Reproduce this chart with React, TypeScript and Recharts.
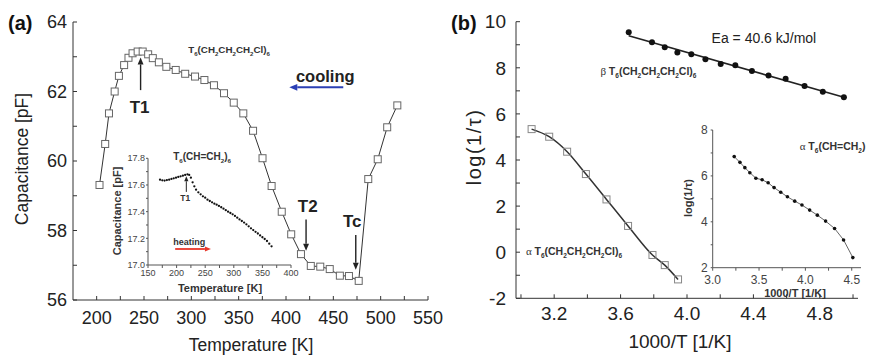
import React from 'react';
import { LineChart, Line, XAxis, YAxis, ReferenceLine, ReferenceDot } from 'recharts';

// ---------- Panel (a): main curve (cooling) ----------
const tempA = [203, 209, 213, 219, 223.5, 229, 233.6, 237.9, 243.3, 248.6, 254.4, 259.3, 265.7, 273.6, 283.5, 293.5, 303.9, 313.8, 323.9, 334.5, 344.8, 354.9, 365.2, 375.2, 384.8, 395.5, 405.5, 415.8, 426.2, 436.2, 446.2, 456.9, 466.5, 476.8, 486.9, 496.9, 506.9, 517.6];
const capA = [59.31, 60.49, 61.37, 62.0, 62.45, 62.76, 62.97, 63.1, 63.15, 63.15, 63.07, 62.96, 62.84, 62.71, 62.62, 62.51, 62.43, 62.33, 62.18, 61.95, 61.68, 61.37, 60.87, 60.08, 59.28, 58.54, 57.89, 57.32, 56.98, 56.96, 56.89, 56.7, 56.69, 56.55, 59.48, 60.05, 60.97, 61.6];

// ---------- Panel (a): inset (heating) ----------
const tempInsetA = [171, 175, 179, 183, 187, 191, 195, 199, 203, 207, 211, 215, 219, 222, 225, 228, 231, 234, 238, 242, 246, 250, 254, 258, 262, 266, 270, 274, 278, 282, 286, 290, 294, 298, 302, 306, 310, 314, 318, 322, 326, 330, 334, 338, 342, 346, 350, 354, 358, 362, 366];
const capInsetA = [17.64, 17.635, 17.633, 17.637, 17.64, 17.645, 17.65, 17.655, 17.66, 17.665, 17.67, 17.675, 17.68, 17.675, 17.655, 17.62, 17.59, 17.565, 17.545, 17.53, 17.515, 17.505, 17.49, 17.48, 17.47, 17.46, 17.452, 17.443, 17.433, 17.422, 17.411, 17.4, 17.39, 17.38, 17.368, 17.355, 17.342, 17.33, 17.318, 17.305, 17.29, 17.275, 17.262, 17.249, 17.236, 17.222, 17.208, 17.195, 17.18, 17.16, 17.14];

// ---------- Panel (b): beta relaxation ----------
const invTBeta = [3.649, 3.789, 3.866, 3.942, 4.026, 4.111, 4.203, 4.291, 4.391, 4.491, 4.594, 4.708, 4.818, 4.945];
const logBeta = [9.54, 9.11, 8.89, 8.66, 8.59, 8.37, 8.17, 8.11, 7.86, 7.67, 7.53, 7.21, 6.96, 6.72];
const invTBetaFit = [3.649, 4.945];
const logBetaFit = [9.39, 6.72];

// ---------- Panel (b): alpha relaxation ----------
const invTAlpha = [3.064, 3.17, 3.278, 3.391, 3.515, 3.645, 3.792, 3.866, 3.946];
const logAlpha = [5.34, 5.01, 4.36, 3.39, 2.29, 1.14, -0.12, -0.56, -1.18];

// ---------- Panel (b): inset ----------
const invTInsetB = [3.232, 3.294, 3.347, 3.401, 3.466, 3.533, 3.598, 3.662, 3.734, 3.806, 3.885, 3.963, 4.046, 4.129, 4.218, 4.315, 4.412, 4.512];
const logInsetB = [6.84, 6.59, 6.36, 6.14, 5.9, 5.83, 5.7, 5.49, 5.29, 5.09, 4.9, 4.73, 4.51, 4.29, 4.03, 3.71, 3.21, 2.44];

// ---------- Ticks ----------
const xTicksA = [200, 225, 250, 275, 300, 325, 350, 375, 400, 425, 450, 475, 500, 525, 550];
const yTicksA = [56, 57, 58, 59, 60, 61, 62, 63, 64];
const xTicksInsetA = [150, 175, 200, 225, 250, 275, 300, 325, 350, 375, 400];
const yTicksInsetA = [17.0, 17.1, 17.2, 17.3, 17.4, 17.5, 17.6, 17.7, 17.8];
const xTicksB = [3.0, 3.2, 3.4, 3.6, 3.8, 4.0, 4.2, 4.4, 4.6, 4.8, 5.0];
const yTicksB = [-2, -1, 0, 1, 2, 3, 4, 5, 6, 7, 8, 9, 10];
const xTicksInsetB = [3.0, 3.25, 3.5, 3.75, 4.0, 4.25, 4.5];
const yTicksInsetB = [2, 3, 4, 5, 6, 7, 8];

const zip = (xs: number[], ys: number[]) => xs.map((x, i) => ({ x, y: ys[i] }));

const FONT = '"Liberation Sans", Arial, Helvetica, sans-serif';
const AX = '#333';

const squareDot = (size: number, stroke: string, fill: string) => (p: any) => (
  <rect key={`sq-${p.index}`} x={p.cx - size / 2} y={p.cy - size / 2} width={size} height={size} stroke={stroke} strokeWidth={1} fill={fill} />
);
const circleDot = (r: number, fill: string) => (p: any) => (
  <circle key={`c-${p.index}`} cx={p.cx} cy={p.cy} r={r} fill={fill} stroke="none" />
);

const arrowShape = (color: string, w: number, head: number) => (p: any) => {
  const { x1, y1, x2, y2 } = p;
  const dx = x2 - x1, dy = y2 - y1;
  const L = Math.hypot(dx, dy) || 1;
  const ux = dx / L, uy = dy / L;
  const bx = x2 - ux * head, by = y2 - uy * head;
  const hw = head * 0.42;
  return (
    <g>
      <line x1={x1} y1={y1} x2={bx} y2={by} stroke={color} strokeWidth={w} />
      <polygon points={`${x2},${y2} ${bx - uy * hw},${by + ux * hw} ${bx + uy * hw},${by - ux * hw}`} fill={color} />
    </g>
  );
};

// text with "_x" subscripts
const chemTspans = (text: string, fs: number) => {
  const tokens = text.split(/(_\S)/).filter((t) => t.length > 0);
  let shift = 0;
  return tokens.map((t, i) => {
    if (t.startsWith('_')) {
      const dy = fs * 0.3 - shift;
      shift = fs * 0.3;
      return <tspan key={i} dy={dy} fontSize={fs * 0.62}>{t.slice(1)}</tspan>;
    }
    const dy = -shift;
    shift = 0;
    return <tspan key={i} dy={dy}>{t}</tspan>;
  });
};

const labelShape = (text: string, fs: number, opts: { bold?: boolean; anchor?: string; color?: string; greek?: string } = {}) => (p: any) => (
  <text x={p.cx} y={p.cy} fontSize={fs} fontWeight={opts.bold ? 'bold' : 'normal'} textAnchor={opts.anchor || 'start'} fill={opts.color || '#222'} fontFamily={FONT}>
    {opts.greek ? <tspan fontFamily='"Liberation Serif", serif' fontWeight="normal" fontSize={fs * 1.05}>{opts.greek + ' '}</tspan> : null}
    {chemTspans(text, fs)}
  </text>
);

const fmt = (major: (v: number) => boolean, digits: number) => (v: number) => (major(v) ? v.toFixed(digits) : '');

const seriesA = zip(tempA, capA);
const seriesInsetA = zip(tempInsetA, capInsetA);
const seriesBeta = zip(invTBeta, logBeta);
const seriesBetaFit = zip(invTBetaFit, logBetaFit);
const seriesAlpha = zip(invTAlpha, logAlpha);
const seriesInsetB = zip(invTInsetB, logInsetB);

export default function App() {
  const mainTick = (fs: number) => ({ fontSize: fs, fill: '#222', fontFamily: FONT });
  const insetTick = (fs: number) => ({ fontSize: fs, fill: '#444', fontFamily: FONT });
  return (
    <div style={{ position: 'absolute', left: 0, top: 0, width: 870, height: 356, background: '#fff', fontFamily: FONT, overflow: 'hidden' }}>
      {/* Panel (a) main */}
      <div style={{ position: 'absolute', left: 0, top: 0 }}>
        <LineChart width={462} height={356} margin={{ top: 22, right: 34, bottom: 26, left: 13 }}>
          <XAxis type="number" dataKey="x" domain={[175, 550]} allowDataOverflow ticks={xTicksA} interval={0}
            tickFormatter={fmt((v) => v % 50 === 0, 0)} tickSize={-4} tickMargin={15} height={30}
            axisLine={{ stroke: AX }} tickLine={{ stroke: AX }} tick={mainTick(18)} />
          <YAxis type="number" domain={[56, 64]} allowDataOverflow ticks={yTicksA} interval={0}
            tickFormatter={fmt((v) => v % 2 === 0, 0)} tickSize={-4} tickMargin={10} width={60}
            axisLine={{ stroke: AX }} tickLine={{ stroke: AX }} tick={mainTick(18)} />
          <Line data={seriesA} dataKey="y" type="linear" stroke="#333" strokeWidth={1} dot={squareDot(7, '#666', '#fff')} isAnimationActive={false} />
          <ReferenceLine segment={[{ x: 246.4, y: 62.04 }, { x: 246.4, y: 62.98 }]} shape={arrowShape('#222', 1.4, 7)} />
          <ReferenceLine segment={[{ x: 421.2, y: 58.32 }, { x: 421.2, y: 57.42 }]} shape={arrowShape('#222', 1.4, 7)} />
          <ReferenceLine segment={[{ x: 473.7, y: 57.87 }, { x: 473.7, y: 56.87 }]} shape={arrowShape('#222', 1.4, 7)} />
          <ReferenceLine segment={[{ x: 460.5, y: 62.12 }, { x: 403.5, y: 62.12 }]} shape={arrowShape('#2b3fb4', 2, 8)} />
          <ReferenceDot x={245.3} y={61.39} r={0} shape={labelShape('T1', 17, { bold: true, anchor: 'middle' })} />
          <ReferenceDot x={423} y={58.53} r={0} shape={labelShape('T2', 17, { bold: true, anchor: 'middle' })} />
          <ReferenceDot x={470} y={58.1} r={0} shape={labelShape('Tc', 17, { bold: true, anchor: 'middle' })} />
          <ReferenceDot x={410.5} y={62.28} r={0} shape={labelShape('cooling', 16.5, { bold: true })} />
          <ReferenceDot x={296.7} y={63.11} r={0} shape={labelShape('T_6(CH_2CH_2CH_2Cl)_6', 9.8, { bold: true, color: '#333' })} />
        </LineChart>
      </div>

      {/* Panel (a) inset */}
      <div style={{ position: 'absolute', left: 100, top: 140 }}>
        <LineChart width={200} height={160} margin={{ top: 18.3, right: 9, bottom: 15, left: 10 }}>
          <XAxis type="number" dataKey="x" domain={[150, 400]} allowDataOverflow ticks={xTicksInsetA} interval={0}
            tickFormatter={fmt((v) => v % 50 === 0, 0)} tickSize={3} tickMargin={2} height={20}
            axisLine={{ stroke: '#555' }} tickLine={{ stroke: '#555' }} tick={insetTick(9)} />
          <YAxis type="number" domain={[17.0, 17.8]} allowDataOverflow ticks={yTicksInsetA} interval={0}
            tickFormatter={fmt((v) => Math.round(v * 10) % 2 === 0, 1)} tickSize={2} tickMargin={1} width={38}
            axisLine={{ stroke: '#555' }} tickLine={{ stroke: '#555' }} tick={insetTick(9)} />
          <Line data={seriesInsetA} dataKey="y" type="linear" stroke="none" dot={circleDot(1.15, '#111')} isAnimationActive={false} />
          <ReferenceDot x={194} y={17.79} r={0} shape={labelShape('T_6(CH=CH_2)_6', 10, { bold: true, color: '#333' })} />
          <ReferenceLine segment={[{ x: 217, y: 17.548 }, { x: 217, y: 17.665 }]} shape={arrowShape('#222', 1, 5)} />
          <ReferenceDot x={215} y={17.48} r={0} shape={labelShape('T1', 8.5, { bold: true, anchor: 'middle', color: '#333' })} />
          <ReferenceDot x={194} y={17.15} r={0} shape={labelShape('heating', 9, { bold: true, color: '#333' })} />
          <ReferenceLine segment={[{ x: 197.5, y: 17.12 }, { x: 260, y: 17.12 }]} shape={arrowShape('#e8372a', 1.8, 6)} />
        </LineChart>
      </div>

      {/* Panel (b) main */}
      <div style={{ position: 'absolute', left: 440, top: 0 }}>
        <LineChart width={430} height={356} margin={{ top: 21.7, right: 12, bottom: 27.7, left: 16 }}>
          <XAxis type="number" dataKey="x" domain={[2.97, 5.03]} allowDataOverflow ticks={xTicksB} interval={0}
            tickFormatter={fmt((v) => Math.round(v * 10) % 4 === 0, 1)} tickSize={-4} tickMargin={12.4} height={30}
            axisLine={{ stroke: AX }} tickLine={{ stroke: AX }} tick={mainTick(19)} />
          <YAxis type="number" domain={[-2, 10]} allowDataOverflow ticks={yTicksB} interval={0}
            tickFormatter={fmt((v) => Math.abs(v) % 2 === 0, 0)} tickSize={-4} tickMargin={14} width={60}
            axisLine={{ stroke: AX }} tickLine={{ stroke: AX }} tick={mainTick(19)} />
          <Line data={seriesBetaFit} dataKey="y" type="linear" stroke="#222" strokeWidth={1.6} dot={false} isAnimationActive={false} />
          <Line data={seriesBeta} dataKey="y" type="linear" stroke="none" dot={circleDot(3, '#111')} isAnimationActive={false} />
          <Line data={seriesAlpha} dataKey="y" type="monotone" stroke="#333" strokeWidth={1.5} dot={squareDot(7, '#888', 'none')} isAnimationActive={false} />
          <ReferenceDot x={4.148} y={9.08} r={0} shape={labelShape('Ea = 40.6 kJ/mol', 14, { color: '#222' })} />
          <ReferenceDot x={3.479} y={7.69} r={0} shape={labelShape('T_6(CH_2CH_2CH_2Cl)_6', 10.5, { bold: true, color: '#333', greek: 'β' })} />
          <ReferenceDot x={3.03} y={-0.12} r={0} shape={labelShape('T_6(CH_2CH_2CH_2Cl)_6', 10.5, { bold: true, color: '#333', greek: 'α' })} />
        </LineChart>
      </div>

      {/* Panel (b) inset */}
      <div style={{ position: 'absolute', left: 660, top: 110 }}>
        <LineChart width={210} height={190} margin={{ top: 20, right: 9, bottom: 12.3, left: 14.7 }}>
          <XAxis type="number" dataKey="x" domain={[3.0, 4.6]} allowDataOverflow ticks={xTicksInsetB} interval={0}
            tickFormatter={fmt((v) => Math.round(v * 100) % 50 === 0, 1)} tickSize={3} tickMargin={5} height={20}
            axisLine={{ stroke: '#555' }} tickLine={{ stroke: '#555' }} tick={insetTick(12)} />
          <YAxis type="number" domain={[2, 8]} allowDataOverflow ticks={yTicksInsetB} interval={0}
            tickFormatter={fmt((v) => v % 2 === 0, 0)} tickSize={2} tickMargin={3} width={38}
            axisLine={{ stroke: '#555' }} tickLine={{ stroke: '#555' }} tick={insetTick(12)} />
          <Line data={seriesInsetB} dataKey="y" type="linear" stroke="#666" strokeWidth={1} dot={circleDot(1.8, '#111')} isAnimationActive={false} />
          <ReferenceDot x={3.94} y={7.13} r={0} shape={labelShape('T_6(CH=CH_2)', 10.5, { bold: true, color: '#333', greek: 'α' })} />
        </LineChart>
      </div>

      {/* Titles overlay */}
      <svg width={870} height={356} style={{ position: 'absolute', left: 0, top: 0, pointerEvents: 'none' }} fontFamily={FONT}>
        <text x={8} y={30} fontSize={20} fontWeight="bold" fill="#111">(a)</text>
        <text x={451} y={30} fontSize={20} fontWeight="bold" fill="#111">(b)</text>
        <text transform="translate(28,159) rotate(-90)" textAnchor="middle" fontSize={17.5} fill="#222">Capacitance [pF]</text>
        <text x={251} y={351} textAnchor="middle" fontSize={17.5} fill="#222">Temperature [K]</text>
        <text transform="translate(481,147) rotate(-90)" textAnchor="middle" fontSize={20} letterSpacing={1.5} fill="#222">log(1/τ)</text>
        <text x={680} y={348} textAnchor="middle" fontSize={19} fill="#222">1000/T [1/K]</text>
        <text transform="translate(121,211) rotate(-90)" textAnchor="middle" fontSize={11} fontWeight="bold" fill="#333">Capacitance [pF]</text>
        <text x={220} y={292} textAnchor="middle" fontSize={11} fontWeight="bold" fill="#333">Temperature [K]</text>
        <text transform="translate(692,198) rotate(-90)" textAnchor="middle" fontSize={11} fontWeight="bold" fill="#333">log(1/τ)</text>
        <text x={795} y={296.5} textAnchor="middle" fontSize={11} fontWeight="bold" fill="#333">1000/T [1/K]</text>
      </svg>
    </div>
  );
}
